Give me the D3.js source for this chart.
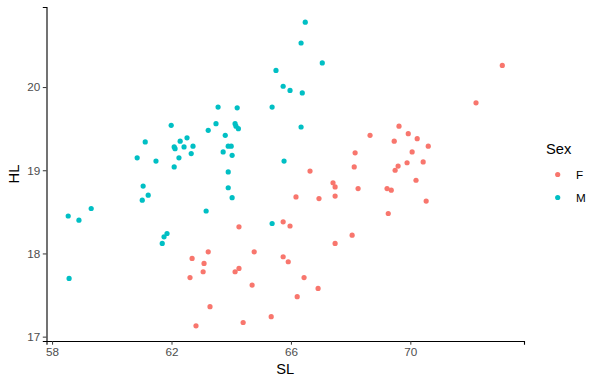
<!DOCTYPE html>
<html>
<head>
<meta charset="utf-8">
<script src="https://cdn.jsdelivr.net/npm/d3@7"></script>
<style>
  body { margin: 0; background: #fff; }
  svg { font-family: "Liberation Sans", Arial, sans-serif; }
</style>
</head>
<body>
<svg width="600" height="386"></svg>
<script>
// SL / HL values, one array per sex
const sexes = ["F", "M"];

const slF = [62.62, 62.69, 62.82, 63.06, 63.09, 63.23, 63.29, 64.13, 64.26, 64.26,
  64.40, 64.70, 64.77, 65.34, 65.74, 65.74, 65.91, 65.97, 66.17, 66.21,
  66.44, 66.64, 66.91, 66.94, 67.41, 67.48, 67.48, 67.48, 68.05, 68.12,
  68.15, 68.25, 68.65, 69.22, 69.26, 69.36, 69.46, 69.49, 69.59, 69.62,
  69.89, 69.93, 70.06, 70.19, 70.23, 70.43, 70.53, 70.60, 72.20, 73.08];
const hlF = [17.71, 17.94, 17.13, 17.78, 17.88, 18.02, 17.36, 17.78, 17.82, 18.32,
  17.17, 17.62, 18.02, 17.24, 18.38, 17.96, 17.90, 18.33, 18.68, 17.48,
  17.71, 18.99, 17.58, 18.66, 18.85, 18.80, 18.69, 18.12, 18.22, 19.04,
  19.21, 18.78, 19.42, 18.78, 18.48, 18.76, 19.35, 19.00, 19.05, 19.53,
  19.09, 19.44, 19.22, 18.88, 19.38, 19.10, 18.63, 19.29, 19.81, 20.26];

const slM = [58.54, 58.90, 59.31, 58.57, 60.85, 61.12, 61.48, 61.05, 61.22, 61.02,
  61.69, 61.75, 61.85, 61.99, 62.09, 62.12, 62.09, 62.25, 62.29, 62.42,
  62.52, 62.66, 62.72, 63.16, 63.23, 63.49, 63.56, 63.73, 63.80, 63.90,
  64.00, 64.03, 63.90, 63.90, 64.03, 64.13, 64.16, 64.24, 64.20, 65.37,
  65.37, 65.50, 65.74, 65.77, 65.97, 66.34, 66.38, 66.34, 66.48, 67.05];
const hlM = [18.45, 18.40, 18.54, 17.70, 19.15, 19.34, 19.11, 18.81, 18.70, 18.64,
  18.12, 18.20, 18.24, 19.54, 19.28, 19.26, 19.04, 19.15, 19.35, 19.28,
  19.39, 19.20, 19.29, 18.51, 19.48, 19.56, 19.76, 19.22, 19.42, 19.29,
  19.29, 19.18, 18.98, 18.79, 18.67, 19.56, 19.53, 19.50, 19.75, 19.76,
  18.36, 20.20, 20.01, 19.11, 19.96, 19.52, 19.93, 20.53, 20.78, 20.29];

const xTicks = [58, 62, 66, 70];
const yTicks = [17, 18, 19, 20];

let svg = d3.select("svg");

let points = [];
slF.forEach(function (v, i) { points.push({ sex: "F", sl: v, hl: hlF[i] }); });
slM.forEach(function (v, i) { points.push({ sex: "M", sl: v, hl: hlM[i] }); });

let color = d3.scaleOrdinal().domain(sexes).range(["#F8766D", "#00BFC4"]);

// ggplot style 5% expansion of the data range
function expand(ext) {
  let pad = (ext[1] - ext[0]) * 0.05;
  return [ext[0] - pad, ext[1] + pad];
}

let x = d3.scaleLinear()
  .domain(expand(d3.extent(points, function (d) { return d.sl; })))
  .range([46.5, 524]);
let y = d3.scaleLinear()
  .domain(expand(d3.extent(points, function (d) { return d.hl; })))
  .range([341, 7]);

let xAxis = svg.append("g")
  .attr("transform", "translate(0,341)")
  .call(d3.axisBottom(x).tickValues(xTicks).tickFormat(d3.format("d"))
    .tickSize(3.7).tickPadding(2.5));
let yAxis = svg.append("g")
  .attr("transform", "translate(46.5,0)")
  .call(d3.axisLeft(y).tickValues(yTicks).tickFormat(d3.format("d"))
    .tickSize(3.7).tickPadding(2.5));

[xAxis, yAxis].forEach(function (ax) {
  ax.select(".domain").attr("stroke", "#000").attr("stroke-width", 1.1);
  ax.selectAll(".tick line").attr("stroke", "#333");
  ax.selectAll(".tick text")
    .attr("fill", "#4d4d4d")
    .style("font-size", "11.7px")
    .style("font-family", "Liberation Sans, Arial, sans-serif");
});

svg.append("g")
  .selectAll("circle")
  .data(points)
  .enter()
  .append("circle")
  .attr("cx", function (d) { return x(d.sl); })
  .attr("cy", function (d) { return y(d.hl); })
  .attr("r", 2.6)
  .attr("fill", function (d) { return color(d.sex); });

// axis titles
svg.append("text")
  .attr("x", x.range()[0] + (x.range()[1] - x.range()[0]) / 2)
  .attr("y", 374)
  .attr("text-anchor", "middle")
  .style("font-size", "14.7px")
  .text("SL");

svg.append("text")
  .attr("transform", "translate(19," + (341 + 7) / 2 + ") rotate(-90)")
  .attr("text-anchor", "middle")
  .style("font-size", "14.7px")
  .text("HL");

// legend
let legend = svg.append("g").attr("transform", "translate(546,0)");
legend.append("text")
  .attr("x", 0)
  .attr("y", 154)
  .style("font-size", "14.7px")
  .text("Sex");

let items = legend.selectAll("g.item")
  .data(sexes)
  .enter()
  .append("g")
  .attr("class", "item")
  .attr("transform", function (d, i) { return "translate(0," + (174.5 + i * 23) + ")"; });

items.append("circle")
  .attr("cx", 11.7)
  .attr("cy", 0)
  .attr("r", 2.6)
  .attr("fill", function (d) { return color(d); });

items.append("text")
  .attr("x", 30)
  .attr("y", 4.2)
  .style("font-size", "11.7px")
  .text(function (d) { return d; });
</script>
</body>
</html>
